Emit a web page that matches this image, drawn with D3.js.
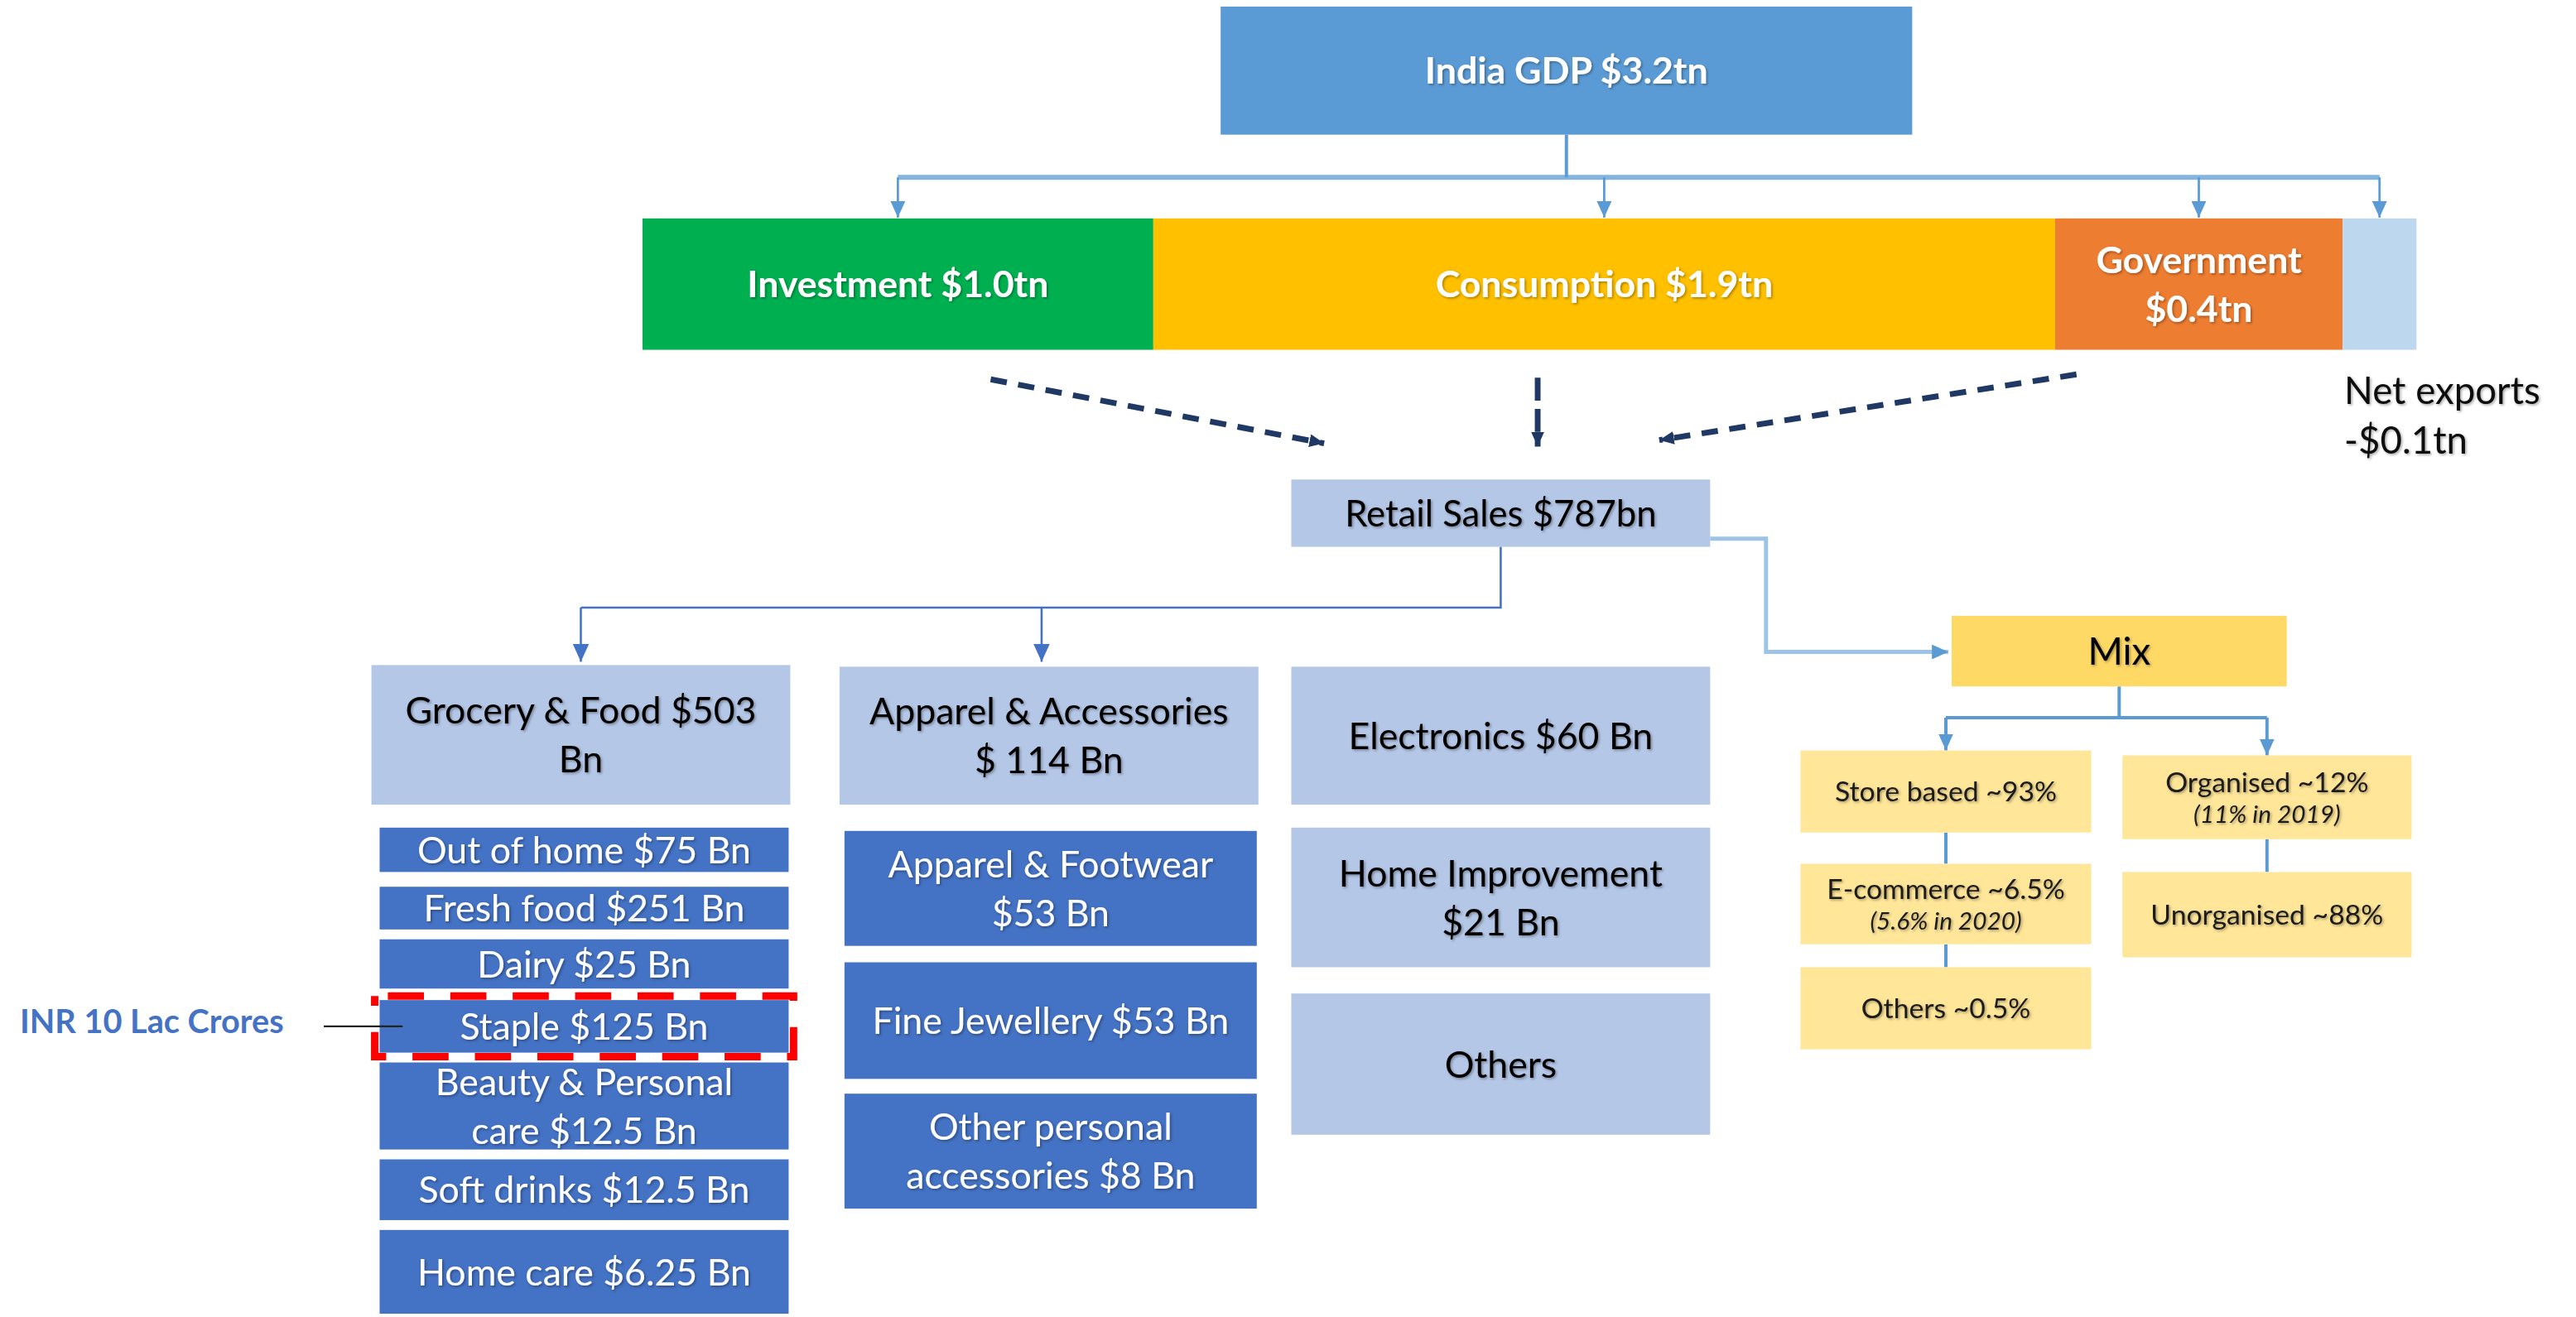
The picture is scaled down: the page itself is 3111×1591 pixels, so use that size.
<!DOCTYPE html>
<html>
<head>
<meta charset="utf-8">
<script src="https://cdn.jsdelivr.net/npm/d3@7"></script>
<style>
  body { margin: 0; background: #fff; }
  svg { display: block; font-family: Lato, "Open Sans", sans-serif; }
</style>
</head>
<body>
<svg id="chart"></svg>
<script>
// ---- data ----
const gdpName = "India GDP";
const gdpValue = "$3.2tn";
const componentNames = ["Investment", "Consumption", "Government", "Net exports"];
const componentValues = ["$1.0tn", "$1.9tn", "$0.4tn", "-$0.1tn"];
const retailName = "Retail Sales";
const retailValue = "$787bn";
const categoryNames = ["Grocery & Food", "Apparel & Accessories", "Electronics", "Home Improvement", "Others"];
const categoryValues = ["$503 Bn", "$ 114 Bn", "$60 Bn", "$21 Bn", ""];
const groceryNames = ["Out of home", "Fresh food", "Dairy", "Staple", "Beauty & Personal care", "Soft drinks", "Home care"];
const groceryValues = ["$75 Bn", "$251 Bn", "$25 Bn", "$125 Bn", "$12.5 Bn", "$12.5 Bn", "$6.25 Bn"];
const apparelNames = ["Apparel & Footwear", "Fine Jewellery", "Other personal accessories"];
const apparelValues = ["$53 Bn", "$53 Bn", "$8 Bn"];
const mixName = "Mix";
const channelNames = ["Store based", "E-commerce", "Others"];
const channelShares = ["~93%", "~6.5%", "~0.5%"];
const channelNotes = ["", "(5.6% in 2020)", ""];
const sectorNames = ["Organised", "Unorganised"];
const sectorShares = ["~12%", "~88%"];
const sectorNotes = ["(11% in 2019)", ""];
const highlightIndex = 3;            // Staple row
const highlightNote = "INR 10 Lac Crores";

// ---- layout (drawing space 1568 x 802, scaled up to the window) ----
const W = 1568, H = 802;
const colors = {
  gdp: "#5B9BD5",
  components: ["#00B050", "#FFC000", "#ED7D31", "#BDD7EE"],
  light: "#B4C7E7",
  dark: "#4472C4",
  mix: "#FFD966",
  mixChild: "#FFE699",
  tree: "#5B9BD5",
  retailTree: "#4472C4",
  mixLink: "#9DC3E6",
  dashed: "#203864",
  red: "#FF0000"
};
const L = {
  gdp: {x: 743, y: 4, w: 421, h: 78},
  bar: {x0: 391, x1: 1471, y: 133, h: 80, weights: [311, 549, 175, 45]},
  branchY: 108,
  retail: {x: 786, y: 292, w: 255, h: 41},
  categories: [
    {x: 226, y: 405, w: 255, h: 85},
    {x: 511, y: 406, w: 255, h: 84},
    {x: 786, y: 406, w: 255, h: 84},
    {x: 786, y: 504, w: 255, h: 85},
    {x: 786, y: 605, w: 255, h: 86}
  ],
  retailBranchY: 370,
  retailDrops: [353.5, 634],
  grocery: {x: 231, w: 249, y: [504, 540, 572, 609, 647, 706, 749], h: [27, 26, 30, 32, 53, 37, 51]},
  apparel: {x: 514, w: 251, y: [506, 586, 666], h: [70, 71, 70]},
  mix: {x: 1188, y: 375, w: 204, h: 43},
  mixBranchY: 437,
  channels: {x: 1096, w: 177, y: [457, 526, 589], h: [50, 49, 50]},
  sectors: {x: 1292, w: 176, y: [460, 531], h: [51, 52]},
  dashedArrows: [[603, 231, 806, 270], [936, 230, 936, 272], [1264, 228, 1010, 268]],
  mixLink: [[1041, 328], [1075, 328], [1075, 397], [1186, 397]],
  highlight: {x: 228, y: 606.5, w: 255, h: 37},
  note: {x: 12, y: 622, x1: 197, x2: 245, ly: 625}
};

const svg = d3.select("#chart")
  .attr("width", 3111)
  .attr("height", 1591)
  .attr("viewBox", `0 0 ${W} ${H}`);

const defs = svg.append("defs");
const shadow = defs.append("filter").attr("id", "shadow")
  .attr("x", "-10%").attr("y", "-30%").attr("width", "120%").attr("height", "160%");
shadow.append("feDropShadow").attr("dx", 0.8).attr("dy", 0.8)
  .attr("stdDeviation", 0.7).attr("flood-color", "#000").attr("flood-opacity", 0.35);

function marker(id, color, w, h) {
  defs.append("marker").attr("id", id)
    .attr("viewBox", `0 0 ${w} ${h}`)
    .attr("refX", w).attr("refY", h / 2)
    .attr("markerWidth", w).attr("markerHeight", h)
    .attr("markerUnits", "userSpaceOnUse")
    .attr("orient", "auto")
    .append("path").attr("d", `M0,0L${w},${h / 2}L0,${h}Z`).attr("fill", color);
}
marker("arrTree", colors.tree, 10, 9);
marker("arrRetail", colors.dark, 11, 10);
marker("arrMixLink", colors.tree, 10, 9);
marker("arrDash", colors.dashed, 9, 8);

// measuring helper for word wrap
const meas = svg.append("text").attr("visibility", "hidden");
function textWidth(str, size, weight) {
  meas.attr("font-size", size).attr("font-weight", weight).text(str);
  return meas.node().getComputedTextLength();
}
function wrap(str, maxW, size, weight) {
  const words = str.split(" ");
  const lines = [];
  let cur = "";
  words.forEach(w => {
    const t = cur ? cur + " " + w : w;
    if (cur && textWidth(t, size, weight) > maxW) { lines.push(cur); cur = w; }
    else cur = t;
  });
  if (cur) lines.push(cur);
  return lines;
}

// lines: array of {text, size, weight, style}
function centeredText(g, cx, cy, lines, fill, lineGap) {
  const heights = lines.map(l => l.size * (lineGap || 1.3));
  const total = d3.sum(heights);
  let y = cy - total / 2;
  const t = g.append("text").attr("text-anchor", "middle").attr("fill", fill)
    .attr("filter", "url(#shadow)");
  lines.forEach((l, i) => {
    y += heights[i];
    t.append("tspan").attr("x", cx).attr("y", y - heights[i] / 2 + l.size * 0.36)
      .attr("font-size", l.size).attr("font-weight", l.weight || 400)
      .attr("font-style", l.style || "normal").text(l.text);
  });
  return t;
}

function boxes(g, data, rectOf, fill, textFill, size, weight, pad) {
  const sel = g.selectAll(null).data(data).join("g");
  sel.append("rect")
    .attr("x", (d, i) => rectOf(i).x).attr("y", (d, i) => rectOf(i).y)
    .attr("width", (d, i) => rectOf(i).w).attr("height", (d, i) => rectOf(i).h)
    .attr("fill", fill);
  sel.each(function(d, i) {
    const r = rectOf(i);
    const lines = wrap(d, r.w - 2 * pad, size, weight).map(s => ({text: s, size, weight}));
    centeredText(d3.select(this), r.x + r.w / 2, r.y + r.h / 2, lines, textFill, 1.32);
  });
  return sel;
}

const gLinks = svg.append("g").attr("fill", "none");
const gBoxes = svg.append("g");

// ---- GDP box ----
boxes(gBoxes, [`${gdpName} ${gdpValue}`], () => L.gdp, colors.gdp, "#fff", 22.5, 700, 10);

// ---- GDP components bar ----
const cum = [0];
L.bar.weights.forEach(w => cum.push(cum[cum.length - 1] + w));
const xBar = d3.scaleLinear().domain([0, cum[cum.length - 1]]).range([L.bar.x0, L.bar.x1]);
const segRect = i => ({x: xBar(cum[i]), y: L.bar.y, w: xBar(cum[i + 1]) - xBar(cum[i]), h: L.bar.h});
const inBar = componentNames.slice(0, 3).map((n, i) => `${n} ${componentValues[i]}`);
boxes(gBoxes, inBar, segRect, null, "#fff", 22.5, 700, 12)
  .select("rect").attr("fill", (d, i) => colors.components[i]);
// net exports segment (label sits outside below it)
const ne = segRect(3);
gBoxes.append("rect").attr("x", ne.x).attr("y", ne.y).attr("width", ne.w).attr("height", ne.h)
  .attr("fill", colors.components[3]);
const neText = gBoxes.append("text").attr("fill", "#111").attr("font-size", 23)
  .attr("filter", "url(#shadow)");
[componentNames[3], componentValues[3]].forEach((s, i) => {
  neText.append("tspan").attr("x", ne.x + 1).attr("y", 246 + i * 30).text(s);
});

// GDP -> components tree
const gdpCx = L.gdp.x + L.gdp.w / 2;
const drops = d3.range(4).map(i => xBar((cum[i] + cum[i + 1]) / 2));
gLinks.append("path").attr("d", `M${gdpCx},${L.gdp.y + L.gdp.h}V${L.branchY}`)
  .attr("stroke", colors.tree).attr("stroke-width", 2);
gLinks.append("path").attr("d", `M${d3.min(drops)},${L.branchY}H${d3.max(drops)}`)
  .attr("stroke", colors.tree).attr("stroke-width", 3).attr("stroke-opacity", 0.75);
drops.forEach(x => {
  gLinks.append("path").attr("d", `M${x},${L.branchY}V${L.bar.y - 0.5}`)
    .attr("stroke", colors.tree).attr("stroke-width", 1.4).attr("marker-end", "url(#arrTree)");
});

// dashed arrows into retail
L.dashedArrows.forEach(([x1, y1, x2, y2]) => {
  gLinks.append("line").attr("x1", x1).attr("y1", y1).attr("x2", x2).attr("y2", y2)
    .attr("stroke", colors.dashed).attr("stroke-width", 3.5)
    .attr("stroke-dasharray", x1 === x2 ? "14,5" : "10,7")
    .attr("marker-end", "url(#arrDash)");
});

// ---- Retail ----
boxes(gBoxes, [`${retailName} ${retailValue}`], () => L.retail, colors.light, "#000", 22, 400, 8);

const rCx = L.retail.x + L.retail.w / 2;
gLinks.append("path")
  .attr("d", `M${rCx},${L.retail.y + L.retail.h}V${L.retailBranchY}H${L.retailDrops[0]}`)
  .attr("stroke", colors.retailTree).attr("stroke-width", 1.3);
L.retailDrops.forEach(x => {
  gLinks.append("path").attr("d", `M${x},${L.retailBranchY}V${L.categories[0].y - 2}`)
    .attr("stroke", colors.retailTree).attr("stroke-width", 1.3).attr("marker-end", "url(#arrRetail)");
});

// ---- Categories ----
const catLabels = categoryNames.map((n, i) => categoryValues[i] ? `${n} ${categoryValues[i]}` : n);
boxes(gBoxes, catLabels, i => L.categories[i], colors.light, "#000", 22.5, 400, 11);

// grocery breakdown
const groLabels = groceryNames.map((n, i) => `${n} ${groceryValues[i]}`);
boxes(gBoxes, groLabels, i => ({x: L.grocery.x, y: L.grocery.y[i], w: L.grocery.w, h: L.grocery.h[i]}),
  colors.dark, "#fff", 22.5, 400, 14);

// apparel breakdown
const appLabels = apparelNames.map((n, i) => `${n} ${apparelValues[i]}`);
boxes(gBoxes, appLabels, i => ({x: L.apparel.x, y: L.apparel.y[i], w: L.apparel.w, h: L.apparel.h[i]}),
  colors.dark, "#fff", 22.5, 400, 14);

// highlight of the staple row
const hl = L.highlight;
gBoxes.append("rect").attr("x", hl.x).attr("y", hl.y).attr("width", hl.w).attr("height", hl.h)
  .attr("fill", "none").attr("stroke", colors.red).attr("stroke-width", 4.5)
  .attr("stroke-dasharray", "22,16").attr("stroke-dashoffset", -8);
gBoxes.append("line").attr("x1", L.note.x1).attr("x2", L.note.x2)
  .attr("y1", L.note.ly).attr("y2", L.note.ly).attr("stroke", "#222").attr("stroke-width", 1.1);
gBoxes.append("text").attr("x", L.note.x).attr("y", L.note.y + 7)
  .attr("font-size", 20).attr("font-weight", 700).attr("fill", colors.dark)
  .text(highlightNote);

// ---- Mix ----
gLinks.append("path")
  .attr("d", d3.line()(L.mixLink))
  .attr("stroke", colors.mixLink).attr("stroke-width", 2.5).attr("marker-end", "url(#arrMixLink)");

boxes(gBoxes, [mixName], () => L.mix, colors.mix, "#000", 23, 400, 8);

const mixCx = L.mix.x + L.mix.w / 2;
const chCx = L.channels.x + L.channels.w / 2;
const seCx = L.sectors.x + L.sectors.w / 2;
gLinks.append("path").attr("d", `M${mixCx},${L.mix.y + L.mix.h}V${L.mixBranchY}M${chCx},${L.mixBranchY}H${seCx}`)
  .attr("stroke", colors.tree).attr("stroke-width", 2);
[[chCx, L.channels.y[0]], [seCx, L.sectors.y[0]]].forEach(([x, y]) => {
  gLinks.append("path").attr("d", `M${x},${L.mixBranchY}V${y}`)
    .attr("stroke", colors.tree).attr("stroke-width", 2).attr("marker-end", "url(#arrTree)");
});
// vertical links between stacked mix boxes
channelNames.slice(1).forEach((d, i) => {
  gLinks.append("path")
    .attr("d", `M${chCx},${L.channels.y[i] + L.channels.h[i]}V${L.channels.y[i + 1]}`)
    .attr("stroke", colors.tree).attr("stroke-width", 2);
});
sectorNames.slice(1).forEach((d, i) => {
  gLinks.append("path")
    .attr("d", `M${seCx},${L.sectors.y[i] + L.sectors.h[i]}V${L.sectors.y[i + 1]}`)
    .attr("stroke", colors.tree).attr("stroke-width", 2);
});

function mixBoxes(names, shares, notes, geo) {
  const g = gBoxes.append("g");
  names.forEach((n, i) => {
    const r = {x: geo.x, y: geo.y[i], w: geo.w, h: geo.h[i]};
    g.append("rect").attr("x", r.x).attr("y", r.y).attr("width", r.w).attr("height", r.h)
      .attr("fill", colors.mixChild);
    const lines = [{text: `${n} ${shares[i]}`, size: 17}];
    if (notes[i]) lines.push({text: notes[i], size: 15, style: "italic"});
    centeredText(g, r.x + r.w / 2, r.y + r.h / 2, lines, "#1a1a1a", 1.2);
  });
}
mixBoxes(channelNames, channelShares, channelNotes, L.channels);
mixBoxes(sectorNames, sectorShares, sectorNotes, L.sectors);

meas.remove();
</script>
</body>
</html>
